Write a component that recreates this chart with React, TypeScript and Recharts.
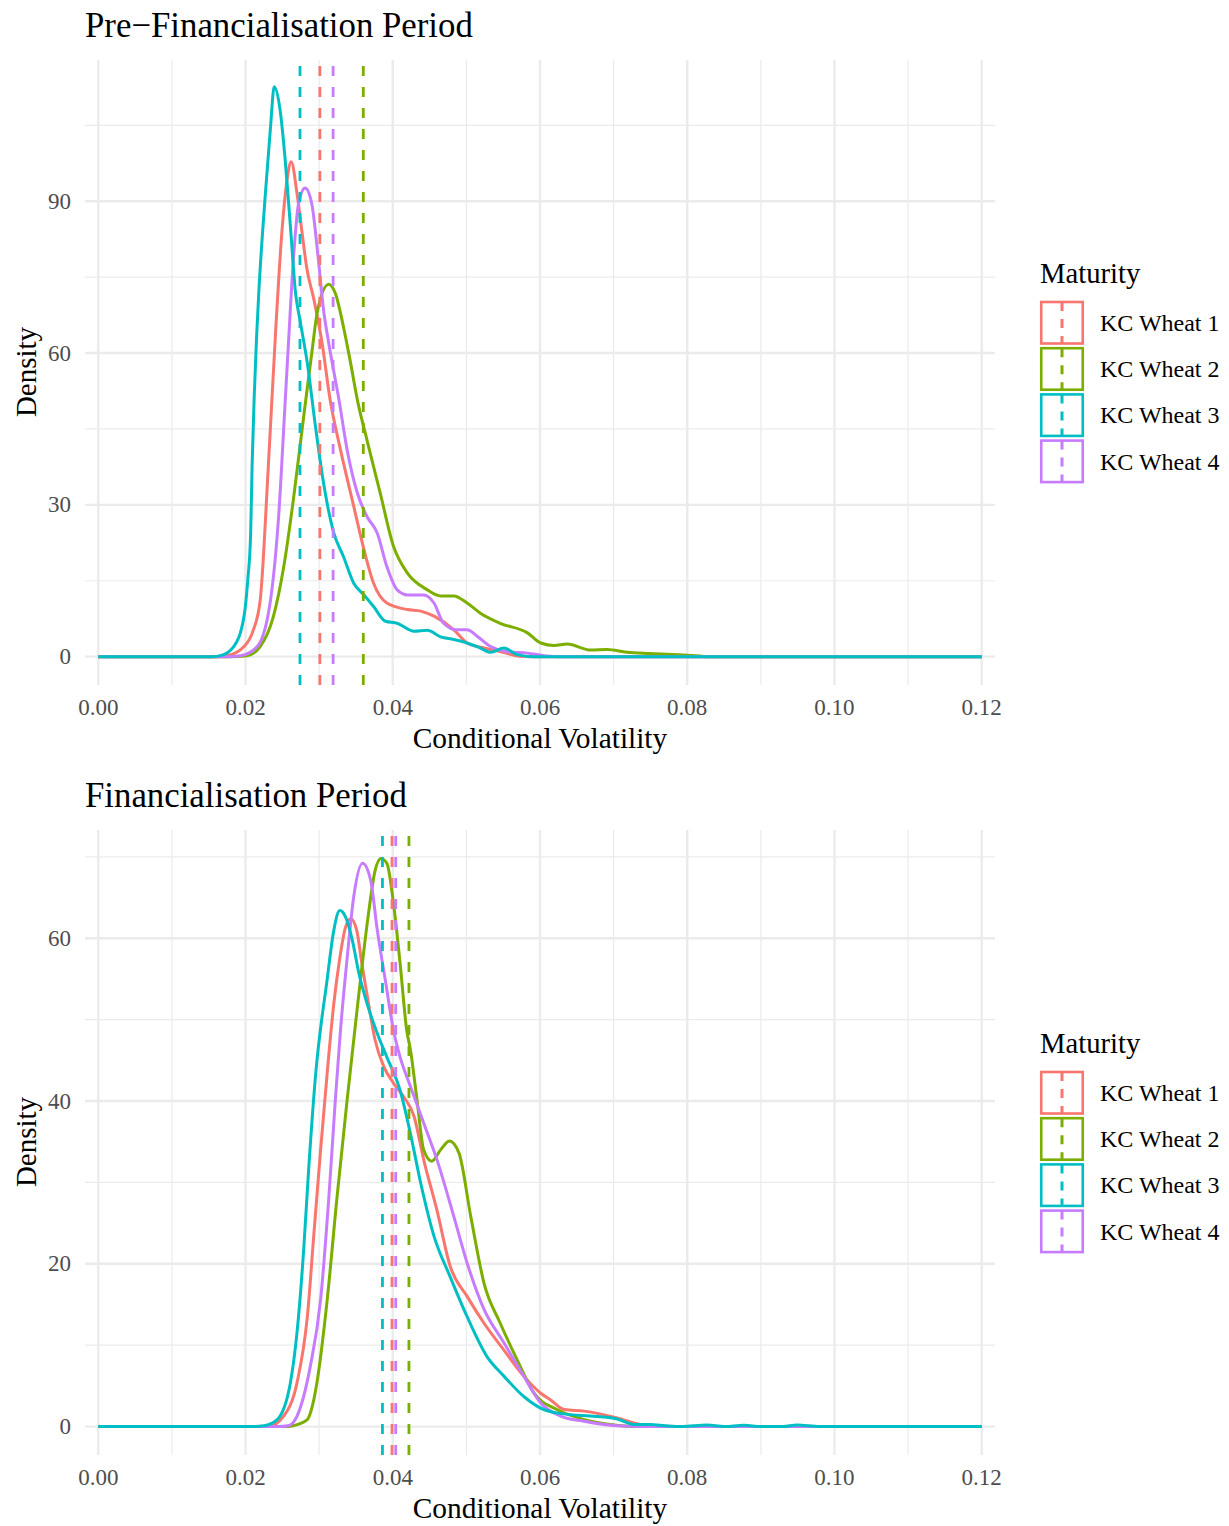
import React from "react"
import { LineChart, Line, XAxis, YAxis, CartesianGrid, ReferenceLine, Legend } from "recharts"

// series names and ggplot default hue palette
const maturities = ["KC Wheat 1", "KC Wheat 2", "KC Wheat 3", "KC Wheat 4"]
const colors = ["#F8766D", "#7CAE00", "#00BFC4", "#C77CFF"]

const xTicks = [0, 0.02, 0.04, 0.06, 0.08, 0.1, 0.12]
const xMinorTicks = [0.01, 0.03, 0.05, 0.07, 0.09, 0.11]
const xDomain = [-0.0018, 0.1218]

// ---- Pre-financialisation period: density curves [volatility, density]
const preWheat1 = [
  [0, 0], [0.016, 0], [0.0175, 0.2], [0.0198, 2.0], [0.021, 5], [0.022, 11.2], [0.0231, 37.6],
  [0.0241, 64.5], [0.025, 85], [0.0257, 94.8], [0.0262, 97.8], [0.027, 91.5], [0.0277, 83.6],
  [0.0283, 77], [0.0293, 70.5], [0.0304, 62], [0.0315, 50.7], [0.0329, 40.9], [0.0347, 29.7],
  [0.0361, 21.1], [0.0374, 14.5], [0.0392, 10.6], [0.042, 9.3], [0.0438, 9.0], [0.0456, 8.0],
  [0.0483, 5.3], [0.0501, 2.7], [0.0524, 1.7], [0.0546, 1.0], [0.0573, 0.1], [0.06, 0], [0.12, 0],
]
const preWheat2 = [
  [0, 0], [0.018, 0], [0.0202, 0.2], [0.022, 2.0], [0.0238, 8], [0.0252, 17.8], [0.0265, 31],
  [0.0279, 47.4], [0.029, 60], [0.0298, 68.5], [0.0313, 73.6], [0.0322, 71.8], [0.0333, 65.2],
  [0.0342, 58.6], [0.0352, 50.7], [0.0365, 42.8], [0.0383, 32.3], [0.0401, 21.8], [0.042, 16.5],
  [0.0447, 13.2], [0.0465, 12.0], [0.0483, 12.0], [0.0501, 10.6], [0.0519, 8.6], [0.0546, 6.6],
  [0.0583, 4.7], [0.0601, 2.7], [0.0619, 2.2], [0.0637, 2.5], [0.0669, 1.3], [0.0691, 1.4],
  [0.0718, 0.85], [0.075, 0.6], [0.08, 0.3], [0.083, 0], [0.12, 0],
]
const preWheat3 = [
  [0, 0], [0.0155, 0], [0.0166, 0.2], [0.0184, 2.0], [0.0198, 8], [0.0203, 15], [0.0207, 24.4],
  [0.0209, 38], [0.0212, 52], [0.0215, 63], [0.0218, 71.8], [0.0227, 91.5], [0.0234, 104.7],
  [0.0239, 112.6], [0.0247, 108], [0.0254, 98], [0.0261, 85], [0.0268, 71.8], [0.0274, 66.5],
  [0.0284, 58], [0.0295, 45.5], [0.0306, 34.3], [0.032, 24.4], [0.0333, 19.8], [0.0347, 14.5],
  [0.0361, 12.2], [0.0374, 9.9], [0.039, 7.0], [0.0406, 6.6], [0.0429, 5.0], [0.0447, 5.2],
  [0.0465, 3.9], [0.0483, 3.4], [0.0501, 2.7], [0.0519, 1.7], [0.0533, 0.85], [0.0551, 1.7],
  [0.0569, 0.4], [0.059, 0], [0.12, 0],
]
const preWheat4 = [
  [0, 0], [0.0175, 0], [0.0193, 0.2], [0.0216, 2.0], [0.0234, 11.2], [0.0245, 27.7], [0.0254, 50.7],
  [0.0258, 61], [0.0265, 78.4], [0.0272, 89.5], [0.0281, 92.6], [0.029, 89.5], [0.0299, 78.4],
  [0.0306, 68.5], [0.0313, 62], [0.0327, 50.7], [0.0338, 40.9], [0.0352, 32.3], [0.0365, 27.7],
  [0.0379, 24.4], [0.0392, 17.8], [0.0406, 13.2], [0.042, 12.2], [0.0442, 12.2], [0.0456, 10.6],
  [0.0469, 6.6], [0.0487, 5.3], [0.0501, 5.3], [0.0515, 4.0], [0.0533, 2.0], [0.0555, 1.0],
  [0.0583, 0.7], [0.0605, 0.2], [0.063, 0], [0.12, 0],
]
const preMeans = [0.0301, 0.036, 0.0274, 0.0319]

// ---- Financialisation period
const finWheat1 = [
  [0, 0], [0.023, 0], [0.0252, 1.3], [0.027, 5.4], [0.0284, 13.5], [0.0293, 23.8], [0.0302, 34],
  [0.0311, 43.5], [0.032, 52], [0.0327, 56.9], [0.0336, 61.4], [0.0343, 62.4], [0.0351, 61],
  [0.0358, 56.9], [0.0367, 52], [0.0376, 47.5], [0.0388, 44.2], [0.0401, 42.2], [0.0415, 40.5],
  [0.0429, 38.1], [0.0442, 32.8], [0.046, 26.6], [0.0478, 19.7], [0.0501, 16], [0.0524, 12.7],
  [0.0551, 9.4], [0.0578, 6.2], [0.0601, 4.1], [0.0614, 3.3], [0.0633, 2.1], [0.066, 1.9],
  [0.0705, 1.07], [0.0737, 0.25], [0.077, 0.05], [0.08, 0], [0.12, 0],
]
const finWheat2 = [
  [0, 0], [0.0255, 0], [0.0264, 0.1], [0.0284, 0.86], [0.0291, 2.6], [0.0297, 5.4], [0.0311, 15.6],
  [0.0324, 27.9], [0.0338, 40.1], [0.0347, 47.5], [0.0356, 54.8], [0.0367, 63], [0.0376, 68.3],
  [0.0384, 69.8], [0.0392, 69.2], [0.0401, 64.3], [0.041, 56.9], [0.0419, 48.7], [0.0424, 46.3],
  [0.0433, 40.1], [0.0442, 34], [0.0453, 32.6], [0.0465, 34], [0.0477, 35.1], [0.049, 33.6],
  [0.0506, 25.8], [0.0524, 17.6], [0.0546, 12.7], [0.0569, 8.2], [0.0592, 4.1], [0.0623, 2.1],
  [0.066, 0.86], [0.0696, 0.25], [0.073, 0], [0.12, 0],
]
const finWheat3 = [
  [0, 0], [0.021, 0], [0.0225, 0.1], [0.0243, 0.86], [0.0261, 5.4], [0.0272, 13.5], [0.0279, 21.7],
  [0.0286, 31.9], [0.0295, 43], [0.0311, 55], [0.032, 61], [0.0328, 63.4],
  [0.0336, 62.6], [0.0345, 59.8], [0.0354, 55.7], [0.0365, 52], [0.0379, 48.3], [0.0392, 45.4],
  [0.041, 41.3], [0.0424, 36], [0.0438, 29.9], [0.0456, 23.4], [0.0478, 18.4], [0.0501, 13.5],
  [0.0528, 8.6], [0.0551, 6.2], [0.0578, 3.7], [0.0605, 2.1], [0.0637, 1.5], [0.0668, 1.3],
  [0.0705, 0.94], [0.0728, 0.25], [0.075, 0.25], [0.077, 0.1], [0.0792, 0], [0.0827, 0.2],
  [0.085, 0], [0.0877, 0.16], [0.09, 0], [0.093, 0], [0.0949, 0.2], [0.098, 0], [0.12, 0],
]
const finWheat4 = [
  [0, 0], [0.0245, 0], [0.0258, 0.1], [0.027, 1.3], [0.0288, 7.4], [0.0302, 15.6], [0.0313, 27.9],
  [0.0322, 40.1], [0.0329, 48.7], [0.0338, 57.5], [0.0347, 65.1], [0.0359, 69.2], [0.037, 67.1],
  [0.0379, 61], [0.039, 54.8], [0.0401, 48.7], [0.041, 45.4], [0.0424, 41.8], [0.0442, 37.3],
  [0.046, 32.8], [0.0483, 25.8], [0.0501, 20.1], [0.0524, 14.4], [0.0551, 10.3], [0.0578, 6.2],
  [0.0601, 2.9], [0.0628, 1.3], [0.066, 0.65], [0.0705, 0.1], [0.074, 0], [0.12, 0],
]
const finMeans = [0.0399, 0.0422, 0.0386, 0.0404]

const font = "'Liberation Serif', 'Times New Roman', serif"
const grid = "#ebebeb"

const toRows = (pts: number[][]) => pts.map(([x, y]) => ({ x, y }))

// draw order: red, green, purple, cyan on top
const drawOrder = [0, 1, 3, 2]

// map a data value to a pixel along the plot area (for minor grid lines)
const lin = (v: number, d: number[], a: number, b: number) => a + ((v - d[0]) / (d[1] - d[0])) * (b - a)

const XTick = ({ x, payload }: any) => (
  <text x={x} y={707} textAnchor="middle" dominantBaseline="central" fill="#4d4d4d" fontSize={23} fontFamily={font}>
    {Number(payload.value).toFixed(2)}
  </text>
)

const YTick = ({ y, payload }: any) => (
  <text x={71} y={y} textAnchor="end" dominantBaseline="central" fill="#4d4d4d" fontSize={23} fontFamily={font}>
    {payload.value}
  </text>
)

const LegendBox = () => (
  <svg width={190} height={230}>
    <text x={4} y={18} dominantBaseline="central" fontSize={28.7} fontFamily={font} fill="#000">Maturity</text>
    {maturities.map((m, i) => {
      const top = 47 + i * 46.2
      return (
        <g key={m}>
          <rect x={5.25} y={top} width={41.5} height={41.5} fill="#fff" stroke={colors[i]} strokeWidth={2.6} />
          <line x1={26} y1={top} x2={26} y2={top + 41.5} stroke={colors[i]} strokeWidth={3} strokeDasharray="9 8" />
          <text x={64} y={top + 21} dominantBaseline="central" fontSize={24} fontFamily={font} fill="#000">{m}</text>
        </g>
      )
    })}
  </svg>
)

function DensityPanel({ title, series, means, yTicks, yMinor, yDomain, height }: any) {
  return (
    <div style={{ position: "relative", width: 1229, height }}>
      <LineChart
        width={1229}
        height={height}
        margin={{ top: 60, right: 234, left: 0, bottom: height - 735 }}
      >
        <CartesianGrid
          stroke={grid}
          strokeWidth={1.2}
          horizontalCoordinatesGenerator={({ offset }: any) =>
            yMinor.map((v: number) => lin(v, yDomain, offset.top + offset.height, offset.top))
          }
          verticalCoordinatesGenerator={({ offset }: any) =>
            xMinorTicks.map((v) => lin(v, xDomain, offset.left, offset.left + offset.width))
          }
        />
        <CartesianGrid stroke={grid} strokeWidth={2.4} syncWithTicks />
        <XAxis
          type="number"
          dataKey="x"
          domain={xDomain}
          ticks={xTicks}
          allowDataOverflow
          axisLine={false}
          tickLine={false}
          height={50}
          tick={<XTick />}
        />
        <YAxis
          type="number"
          domain={yDomain}
          ticks={yTicks}
          allowDataOverflow
          axisLine={false}
          tickLine={false}
          width={85}
          tick={<YTick />}
        />
        {drawOrder.map((i) => (
          <Line
            key={maturities[i]}
            data={toRows(series[i])}
            dataKey="y"
            name={maturities[i]}
            type="monotone"
            stroke={colors[i]}
            strokeWidth={3}
            dot={false}
            activeDot={false}
            isAnimationActive={false}
          />
        ))}
        {drawOrder.map((i) => (
          <ReferenceLine key={"m" + i} x={means[i]} stroke={colors[i]} strokeWidth={2.8} strokeDasharray="10 11" />
        ))}
        <Legend
          layout="vertical"
          align="center"
          verticalAlign="middle"
          content={<LegendBox />}
          wrapperStyle={{ left: 1036, top: 255, width: 190, height: 230 }}
        />
      </LineChart>
      <svg width={1229} height={height} style={{ position: "absolute", left: 0, top: 0, pointerEvents: "none" }}>
        <text x={85} y={25} dominantBaseline="central" fontSize={34.8} fontFamily={font} fill="#000">{title}</text>
        <text x={540} y={738} textAnchor="middle" dominantBaseline="central" fontSize={29.4} fontFamily={font} fill="#000">
          Conditional Volatility
        </text>
        <text
          x={26}
          y={372}
          textAnchor="middle"
          dominantBaseline="central"
          fontSize={29}
          fontFamily={font}
          fill="#000"
          transform="rotate(-90 26 372)"
        >
          Density
        </text>
      </svg>
    </div>
  )
}

export default function App() {
  return (
    <div style={{ position: "absolute", left: 0, top: 0, width: 1229, height: 1526, overflow: "hidden", background: "#fff" }}>
      <div style={{ position: "absolute", left: 0, top: 0 }}>
        <DensityPanel
          title="Pre−Financialisation Period"
          series={[preWheat1, preWheat2, preWheat3, preWheat4]}
          means={preMeans}
          yTicks={[0, 30, 60, 90]}
          yMinor={[15, 45, 75, 105]}
          yDomain={[-5.6, 117.9]}
          height={763}
        />
      </div>
      <div style={{ position: "absolute", left: 0, top: 770 }}>
        <DensityPanel
          title="Financialisation Period"
          series={[finWheat1, finWheat2, finWheat3, finWheat4]}
          means={finMeans}
          yTicks={[0, 20, 40, 60]}
          yMinor={[10, 30, 50, 70]}
          yDomain={[-3.49, 73.3]}
          height={756}
        />
      </div>
    </div>
  )
}
